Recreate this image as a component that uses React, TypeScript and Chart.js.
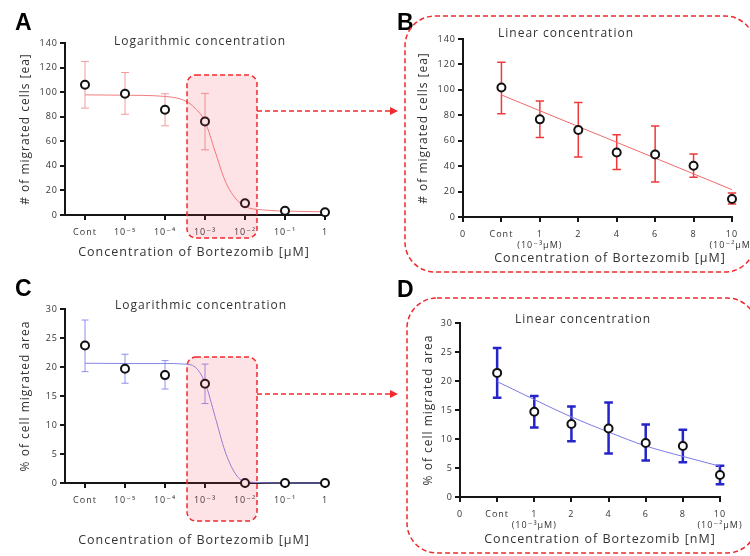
import React, { useEffect, useRef } from "react";
import { Chart, registerables } from "chart.js";

Chart.register(...registerables);

// ---------------- data ----------------
const logTickLabels: (string | string[])[] = ["Cont", "10⁻⁵", "10⁻⁴", "10⁻³", "10⁻²", "10⁻¹", "1"];
const logTickValues = [0, 1, 2, 3, 4, 5, 6];
const linTickLabels: (string | string[])[] = ["0", "Cont", ["1", "(10⁻³μM)"], "2", "4", "6", "8", ["10", "(10⁻²μM)"]];
const linTickValues = [-1, 0, 1, 2, 3, 4, 5, 6];
const pointIndex = [0, 1, 2, 3, 4, 5, 6];

// A: # of migrated cells, logarithmic concentration
const cellsLogMean = [106, 98.7, 85.6, 76.1, 9.5, 3.5, 2.2];
const cellsLogHigh = [125, 116, 98.7, 99, 11, 4.5, 3];
const cellsLogLow = [87, 82, 72.6, 53, 8, 2.5, 1.4];
const cellsLogFitX = [0, 1, 2, 2.5, 2.75, 3, 3.25, 3.5, 3.75, 4, 4.5, 5, 6];
const cellsLogFitY = [97.8, 97.5, 96.5, 93, 87, 76, 52, 28, 14, 7, 4, 3.2, 2.6];

// B: # of migrated cells, linear concentration
const cellsLinMean = [101.8, 76.8, 68.4, 50.8, 49.2, 40.3, 14.2];
const cellsLinHigh = [121.8, 91.3, 90, 64.7, 71.6, 49.5, 18.9];
const cellsLinLow = [81.3, 62.6, 47.1, 37.4, 27.6, 31.3, 10.3];
const cellsLinFitX = [0, 6];
const cellsLinFitY = [96, 21.5];

// C: % of cell migrated area, logarithmic concentration
const areaLogMean = [23.7, 19.7, 18.6, 17.1, 0, 0, 0];
const areaLogHigh = [28.1, 22.2, 21.1, 20.5, 0, 0, 0];
const areaLogLow = [19.2, 17.2, 16.2, 13.7, 0, 0, 0];
const areaLogFitX = [0, 1, 2, 2.5, 2.75, 3, 3.25, 3.5, 3.75, 4, 5, 6];
const areaLogFitY = [20.65, 20.6, 20.6, 20.5, 20, 17.3, 11.5, 5.5, 1.7, 0.2, 0, 0];

// D: % of cell migrated area, linear concentration
const areaLinMean = [21.4, 14.7, 12.6, 11.8, 9.3, 8.8, 3.8];
const areaLinHigh = [25.7, 17.4, 15.6, 16.3, 12.5, 11.6, 5.4];
const areaLinLow = [17.1, 12.0, 9.6, 7.5, 6.3, 6.0, 2.2];
const areaLinFitX = [0, 1, 2, 3, 4, 5, 6];
const areaLinFitY = [19.9, 16.8, 13.8, 11.2, 8.8, 7.0, 5.3];

// ---------------- styling ----------------
const FONT = '"Open Sans", "DejaVu Sans", sans-serif';
const TEXT = "#333333";
const AXIS = "#151515";

type Spec = {
  left: number; top: number; width: number; height: number;
  pad: { left: number; right: number; top: number; bottom: number };
  yW: number; xH: number;
  xMin: number; xMax: number; xTicks: number[]; xLabels: (string | string[])[];
  yMax: number; yStep: number;
  yTitle: string; title: string; xTitle: string;
  titlePos: [number, number]; xTitlePos: [number, number];
  mean: number[]; high: number[]; low: number[];
  fitX: number[]; fitY: number[];
  barColor: string; barWidth: number; cap: number;
  curveColor: string; curveWidth: number;
};

function makeConfig(s: Spec): any {
  const spacing = {
    id: "spacing",
    beforeUpdate(chart: any) { chart.ctx.letterSpacing = "1px"; },
    beforeDraw(chart: any) { chart.ctx.letterSpacing = "1px"; },
  };
  const errorBars = {
    id: "errorBars",
    beforeDatasetsDraw(chart: any) {
      const { ctx, scales } = chart;
      const x = scales.x, y = scales.y;
      ctx.save();
      ctx.strokeStyle = s.barColor;
      ctx.lineWidth = s.barWidth;
      s.low.forEach((lo, i) => {
        const hi = s.high[i];
        if (hi - lo <= 0) return;
        const px = x.getPixelForValue(pointIndex[i]);
        const pl = y.getPixelForValue(lo);
        const ph = y.getPixelForValue(hi);
        ctx.beginPath();
        ctx.moveTo(px, pl); ctx.lineTo(px, ph);
        ctx.moveTo(px - s.cap, pl); ctx.lineTo(px + s.cap, pl);
        ctx.moveTo(px - s.cap, ph); ctx.lineTo(px + s.cap, ph);
        ctx.stroke();
      });
      ctx.restore();
    },
  };
  const texts = {
    id: "texts",
    afterDraw(chart: any) {
      const { ctx, chartArea } = chart;
      ctx.save();
      ctx.letterSpacing = "1px";
      ctx.fillStyle = TEXT;
      ctx.textAlign = "center";
      ctx.textBaseline = "middle";
      ctx.font = `12px ${FONT}`;
      ctx.fillText(s.title, chartArea.left + s.titlePos[0], chartArea.top + s.titlePos[1]);
      ctx.font = `12.5px ${FONT}`;
      ctx.fillText(s.xTitle, chartArea.left + s.xTitlePos[0], chartArea.bottom + s.xTitlePos[1]);
      ctx.restore();
    },
  };
  const tickFont = { family: FONT, size: 9 };
  return {
    type: "scatter",
    data: {
      datasets: [
        {
          label: "mean",
          data: s.mean.map((v, i) => ({ x: pointIndex[i], y: v })),
          pointRadius: 4,
          pointHoverRadius: 4,
          pointBorderWidth: 2,
          borderColor: "#111111",
          backgroundColor: "#ffffff",
          clip: false,
        },
        {
          label: "fit",
          type: "line",
          data: s.fitX.map((v, i) => ({ x: v, y: s.fitY[i] })),
          showLine: true,
          pointRadius: 0,
          borderColor: s.curveColor,
          borderWidth: s.curveWidth,
          cubicInterpolationMode: "monotone",
          fill: false,
          clip: false,
        },
      ],
    },
    options: {
      animation: false,
      responsive: false,
      events: [],
      layout: { padding: s.pad },
      plugins: { legend: { display: false }, tooltip: { enabled: false }, title: { display: false } },
      scales: {
        x: {
          type: "linear",
          min: s.xMin,
          max: s.xMax,
          afterBuildTicks: (sc: any) => { sc.ticks = s.xTicks.map((v) => ({ value: v })); },
          afterFit: (sc: any) => { sc.height = s.xH; sc.paddingLeft = 0; sc.paddingRight = 0; },
          ticks: {
            autoSkip: false, maxRotation: 0, minRotation: 0, padding: 7,
            font: tickFont, color: TEXT,
            callback: (_v: any, i: number) => s.xLabels[i],
          },
          grid: { drawOnChartArea: false, drawTicks: true, tickLength: 5, color: AXIS, lineWidth: 2 },
          border: { display: true, color: AXIS, width: 2 },
        },
        y: {
          type: "linear",
          min: 0,
          max: s.yMax,
          afterFit: (sc: any) => { sc.width = s.yW; sc.paddingTop = 0; sc.paddingBottom = 0; },
          ticks: { stepSize: s.yStep, padding: 2, font: tickFont, color: TEXT },
          grid: { drawOnChartArea: false, drawTicks: true, tickLength: 5, color: AXIS, lineWidth: 2 },
          border: { display: true, color: AXIS, width: 2 },
          title: { display: true, text: s.yTitle, color: TEXT, font: { family: FONT, size: 12 }, padding: { top: 4, bottom: 0 } },
        },
      },
    },
    plugins: [spacing, errorBars, texts],
  };
}

const panels: Spec[] = [
  {
    left: 0, top: 30, width: 380, height: 240,
    pad: { left: 14, right: 53, top: 13, bottom: 7 }, yW: 51, xH: 48,
    xMin: -0.5, xMax: 6.05, xTicks: logTickValues, xLabels: logTickLabels,
    yMax: 140, yStep: 20,
    yTitle: "# of migrated cells [ea]", title: "Logarithmic concentration", xTitle: "Concentration of Bortezomib [μM]",
    titlePos: [135, -1], xTitlePos: [129, 37],
    mean: cellsLogMean, high: cellsLogHigh, low: cellsLogLow, fitX: cellsLogFitX, fitY: cellsLogFitY,
    barColor: "#f39a9a", barWidth: 1, cap: 4, curveColor: "#f37e7e", curveWidth: 1,
  },
  {
    left: 380, top: 20, width: 370, height: 250,
    pad: { left: 32, right: 18, top: 19, bottom: 1 }, yW: 51, xH: 52,
    xMin: -1, xMax: 6, xTicks: linTickValues, xLabels: linTickLabels,
    yMax: 140, yStep: 20,
    yTitle: "# of migrated cells [ea]", title: "Linear concentration", xTitle: "Concentration of Bortezomib [μM]",
    titlePos: [103, -5], xTitlePos: [147, 41],
    mean: cellsLinMean, high: cellsLinHigh, low: cellsLinLow, fitX: cellsLinFitX, fitY: cellsLinFitY,
    barColor: "#ee3a3a", barWidth: 1.5, cap: 4.2, curveColor: "#f26a6a", curveWidth: 1,
  },
  {
    left: 0, top: 290, width: 380, height: 266,
    pad: { left: 14, right: 53, top: 19, bottom: 5 }, yW: 51, xH: 68,
    xMin: -0.5, xMax: 6.05, xTicks: logTickValues, xLabels: logTickLabels,
    yMax: 30, yStep: 5,
    yTitle: "% of cell migrated area", title: "Logarithmic concentration", xTitle: "Concentration of Bortezomib [μM]",
    titlePos: [136, -3], xTitlePos: [129, 57],
    mean: areaLogMean, high: areaLogHigh, low: areaLogLow, fitX: areaLogFitX, fitY: areaLogFitY,
    barColor: "#8f8ff0", barWidth: 1, cap: 3.5, curveColor: "#8686e6", curveWidth: 1,
  },
  {
    left: 380, top: 300, width: 370, height: 256,
    pad: { left: 37, right: 30, top: 23, bottom: 6 }, yW: 43, xH: 53,
    xMin: -1, xMax: 6, xTicks: linTickValues, xLabels: linTickLabels,
    yMax: 30, yStep: 5,
    yTitle: "% of cell migrated area", title: "Linear concentration", xTitle: "Concentration of Bortezomib [nM]",
    titlePos: [123, -3], xTitlePos: [140, 42],
    mean: areaLinMean, high: areaLinHigh, low: areaLinLow, fitX: areaLinFitX, fitY: areaLinFitY,
    barColor: "#2424c8", barWidth: 2.5, cap: 4.3, curveColor: "#7b7be6", curveWidth: 1,
  },
];

function Panel({ spec }: { spec: Spec }) {
  const ref = useRef<HTMLCanvasElement | null>(null);
  useEffect(() => {
    if (!ref.current) return;
    const chart = new Chart(ref.current, makeConfig(spec));
    return () => chart.destroy();
  }, [spec]);
  return (
    <canvas
      ref={ref}
      width={spec.width}
      height={spec.height}
      style={{ position: "absolute", left: spec.left, top: spec.top, width: spec.width, height: spec.height }}
    />
  );
}

const RED = "#f02a2e";

export default function App() {
  const letter = { fontFamily: '"Liberation Sans", Arial, sans-serif', fontWeight: 700, fontSize: 23, fill: "#000" } as any;
  return (
    <div style={{ position: "absolute", left: 0, top: 0, width: 750, height: 556, overflow: "hidden", background: "#fff" }}>
      {panels.map((p, i) => (
        <Panel key={i} spec={p} />
      ))}
      <svg width={750} height={556} style={{ position: "absolute", left: 0, top: 0, pointerEvents: "none" }}>
        <text x={15} y={30} style={letter}>A</text>
        <text x={397} y={30} style={letter}>B</text>
        <text x={15} y={296} style={letter}>C</text>
        <text x={397} y={297} style={letter}>D</text>
        {/* highlight boxes */}
        <rect x={187} y={75} width={70} height={163} rx={9} fill="rgba(245,70,90,0.15)" stroke={RED} strokeWidth={1.5} strokeDasharray="5 3" />
        <rect x={187} y={357} width={70} height={164} rx={9} fill="rgba(245,70,90,0.15)" stroke={RED} strokeWidth={1.5} strokeDasharray="5 3" />
        {/* arrows */}
        <line x1={257} y1={111} x2={391} y2={111} stroke={RED} strokeWidth={1.5} strokeDasharray="5 3" />
        <polygon points="390,107 398,111 390,115" fill={RED} />
        <line x1={257} y1={394} x2={391} y2={394} stroke={RED} strokeWidth={1.5} strokeDasharray="5 3" />
        <polygon points="390,390 398,394 390,398" fill={RED} />
        {/* linear panels frames */}
        <rect x={405} y={16} width={350} height={256} rx={30} fill="none" stroke={RED} strokeWidth={1.5} strokeDasharray="5 3" />
        <rect x={407} y={298} width={350} height={255} rx={30} fill="none" stroke={RED} strokeWidth={1.5} strokeDasharray="5 3" />
      </svg>
    </div>
  );
}
